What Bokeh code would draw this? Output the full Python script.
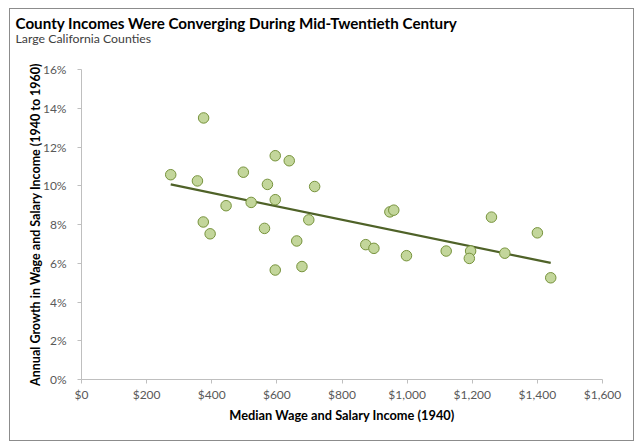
import numpy as np
from bokeh.plotting import figure
from bokeh.models import Title, NumeralTickFormatter, FixedTicker, ColumnDataSource, Range1d
from bokeh.embed import file_html
from bokeh.resources import INLINE

# Median wage and salary income in 1940 (dollars)
income_1940 = [274, 375, 356, 497, 595, 638, 571, 716, 444, 521,
               595, 374, 395, 562, 698, 661, 595, 677, 873, 898,
               947, 959, 998, 1120, 1195, 1191, 1259, 1300, 1400, 1441]
# Annual growth in wage and salary income 1940-1960 (percent)
growth_pct = [10.57, 13.50, 10.25, 10.70, 11.55, 11.29, 10.07, 9.96, 8.97, 9.14,
              9.28, 8.13, 7.52, 7.80, 8.24, 7.15, 5.65, 5.83, 6.96, 6.77,
              8.65, 8.74, 6.39, 6.63, 6.63, 6.25, 8.38, 6.52, 7.57, 5.25]
growth = [g / 100 for g in growth_pct]

x_ticks = [0, 200, 400, 600, 800, 1000, 1200, 1400, 1600]
y_ticks = [0, 0.02, 0.04, 0.06, 0.08, 0.10, 0.12, 0.14, 0.16]

title_text = "County Incomes Were Converging During Mid-Twentieth Century"
subtitle_text = "Large California Counties"
x_label = "Median Wage and Salary Income (1940)"
y_label = "Annual Growth in Wage and Salary Income (1940 to 1960)"

FONT = "Lato"

p = figure(width=625, height=433, output_backend="svg", toolbar_location=None,
           x_range=Range1d(0, 1600), y_range=Range1d(0, 0.16),
           min_border_left=71, min_border_right=33, min_border_bottom=63, min_border_top=60)
p.styles = {"margin-left": "9px", "margin-top": "8px", "border": "1px solid #8c8c8c"}
p.title = None

spacer = Title(text=" ", text_font_size="1px", standoff=23)
p.add_layout(spacer, "above")
sub = Title(text=subtitle_text, text_font=FONT, text_font_size="12.3px",
            text_font_style="normal", text_color="#404040", align="left",
            offset=-66, standoff=-5)
p.add_layout(sub, "above")
main = Title(text=title_text, text_font=FONT, text_font_size="15.2px",
             text_font_style="bold", text_color="#000000", align="left",
             offset=-66, standoff=0)
p.add_layout(main, "above")

p.outline_line_color = None
p.xgrid.visible = False
p.ygrid.visible = False
p.background_fill_color = "white"
p.border_fill_color = "white"

# trendline (least squares, as the spreadsheet computes it)
slope, intercept = np.polyfit(income_1940, growth, 1)
tx = [min(income_1940), max(income_1940)]
ty = [intercept + slope * v for v in tx]
p.line(tx, ty, line_color="#4f6228", line_width=2.2)

src = ColumnDataSource(dict(x=income_1940, y=growth))
p.scatter("x", "y", source=src, size=10.5, fill_color="#c3d69b",
          line_color="#77933c", line_width=1)

for ax in (p.xaxis[0], p.yaxis[0]):
    ax.axis_line_color = "#bfbfbf"
    ax.major_tick_line_color = "#bfbfbf"
    ax.major_tick_out = 4
    ax.major_tick_in = 0
    ax.minor_tick_line_color = None
    ax.major_label_text_font = FONT
    ax.major_label_text_font_size = "12px"
    ax.major_label_text_color = "#595959"
    ax.axis_label_text_font = FONT
    ax.axis_label_text_font_size = "12.8px"
    ax.axis_label_text_font_style = "bold"
    ax.axis_label_text_color = "#000000"

p.xaxis[0].ticker = FixedTicker(ticks=x_ticks)
p.xaxis[0].formatter = NumeralTickFormatter(format="$0,0")
p.xaxis[0].axis_label = x_label
p.xaxis[0].major_label_standoff = 3
p.xaxis[0].axis_label_standoff = 2

p.yaxis[0].ticker = FixedTicker(ticks=y_ticks)
p.yaxis[0].formatter = NumeralTickFormatter(format="0%")
p.yaxis[0].axis_label = y_label
p.yaxis[0].axis_label_text_font_size = "12.5px"
p.yaxis[0].major_label_standoff = 11
p.yaxis[0].axis_label_standoff = -3

open("out.html", "w").write(file_html(p, INLINE))
